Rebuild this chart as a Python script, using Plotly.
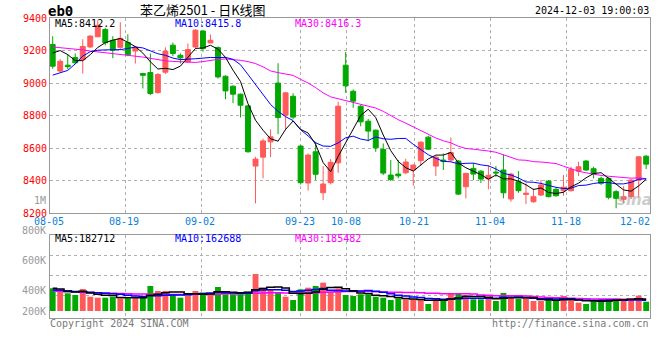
import plotly.graph_objects as go
import pandas as pd

# ---------------- data ----------------
dates = [
    "2024-08-05", "2024-08-06", "2024-08-07", "2024-08-08", "2024-08-09",
    "2024-08-12", "2024-08-13", "2024-08-14", "2024-08-15", "2024-08-16",
    "2024-08-19", "2024-08-20", "2024-08-21", "2024-08-22", "2024-08-23",
    "2024-08-26", "2024-08-27", "2024-08-28", "2024-08-29", "2024-08-30",
    "2024-09-02", "2024-09-03", "2024-09-04", "2024-09-05", "2024-09-06",
    "2024-09-09", "2024-09-10", "2024-09-11", "2024-09-12", "2024-09-13",
    "2024-09-18", "2024-09-19", "2024-09-20", "2024-09-23", "2024-09-24",
    "2024-09-25", "2024-09-26", "2024-09-27", "2024-09-30", "2024-10-08",
    "2024-10-09", "2024-10-10", "2024-10-11", "2024-10-14", "2024-10-15",
    "2024-10-16", "2024-10-17", "2024-10-18", "2024-10-21", "2024-10-22",
    "2024-10-23", "2024-10-24", "2024-10-25", "2024-10-28", "2024-10-29",
    "2024-10-30", "2024-10-31", "2024-11-01", "2024-11-04", "2024-11-05",
    "2024-11-06", "2024-11-07", "2024-11-08", "2024-11-11", "2024-11-12",
    "2024-11-13", "2024-11-14", "2024-11-15", "2024-11-18", "2024-11-19",
    "2024-11-20", "2024-11-21", "2024-11-22", "2024-11-25", "2024-11-26",
    "2024-11-27", "2024-11-28", "2024-11-29", "2024-12-02", "2024-12-03",
]

opens = [
    9237, 9074, 9110, 9157, 9144, 9222, 9285, 9329, 9263, 9220,
    9249, 9197, 9059, 9065, 8942, 9067, 9233, 9171, 9130, 9222,
    9320, 9247, 9218, 9042, 8981, 8932, 8860, 8490, 8545, 8639,
    9000, 8803, 8919, 8613, 8386, 8578, 8326, 8388, 8510, 9110,
    8950, 8858, 8766, 8711, 8593, 8435, 8441, 8449, 8467, 8523,
    8668, 8490, 8527, 8527, 8521, 8363, 8476, 8459, 8412, 8453,
    8466, 8288, 8394, 8316, 8271, 8312, 8398, 8347, 8339, 8339,
    8459, 8521, 8474, 8415, 8415, 8333, 8286, 8302, 8404, 8551,
]
highs = [
    9288, 9147, 9177, 9183, 9269, 9294, 9386, 9340, 9288, 9374,
    9300, 9228, 9063, 9181, 9061, 9220, 9249, 9183, 9243, 9332,
    9325, 9298, 9226, 9048, 8987, 8936, 8864, 8547, 8659, 8716,
    9122, 8946, 8938, 8619, 8567, 8640, 8490, 8533, 8885, 9191,
    8961, 8866, 8780, 8715, 8629, 8527, 8527, 8535, 8502, 8643,
    8677, 8554, 8568, 8666, 8527, 8449, 8510, 8465, 8496, 8490,
    8562, 8449, 8459, 8384, 8353, 8404, 8404, 8359, 8435, 8486,
    8517, 8527, 8486, 8425, 8421, 8343, 8367, 8409, 8551, 8557,
]
lows = [
    9088, 9067, 9085, 9116, 9059, 9217, 9282, 9232, 9153, 9202,
    9165, 9120, 8967, 8926, 8935, 9055, 9165, 9120, 9128, 9214,
    9193, 9245, 9028, 8901, 8877, 8789, 8573, 8261, 8415, 8545,
    8686, 8711, 8778, 8377, 8340, 8404, 8282, 8377, 8449, 8940,
    8848, 8734, 8642, 8578, 8435, 8398, 8415, 8440, 8369, 8491,
    8588, 8429, 8466, 8515, 8312, 8292, 8404, 8387, 8347, 8424,
    8292, 8271, 8326, 8257, 8265, 8306, 8298, 8302, 8308, 8333,
    8429, 8461, 8415, 8374, 8286, 8231, 8263, 8288, 8298, 8472,
]
closes = [
    9104, 9134, 9101, 9125, 9225, 9289, 9355, 9248, 9202, 9275,
    9174, 9222, 9048, 8936, 9053, 9196, 9182, 9155, 9206, 9325,
    9212, 9263, 9038, 8952, 8932, 8864, 8578, 8533, 8645, 8670,
    8789, 8940, 8791, 8388, 8558, 8440, 8380, 8513, 8858, 8983,
    8889, 8762, 8705, 8602, 8447, 8408, 8430, 8515, 8496, 8637,
    8594, 8545, 8518, 8573, 8318, 8445, 8441, 8410, 8433, 8448,
    8326, 8441, 8339, 8323, 8302, 8374, 8302, 8308, 8360, 8470,
    8486, 8466, 8441, 8384, 8298, 8292, 8302, 8404, 8547, 8502,
]
volumes = [
    350000, 313000, 273000, 246000, 339000, 220000, 205000, 205000, 220000, 196000,
    196000, 196000, 211000, 385000, 308000, 308000, 257000, 205000, 242000, 308000,
    282000, 273000, 370000, 257000, 257000, 257000, 297000, 570000, 359000, 339000,
    282000, 220000, 169000, 334000, 359000, 385000, 436000, 297000, 350000, 246000,
    231000, 257000, 257000, 220000, 205000, 169000, 196000, 180000, 180000, 169000,
    108000, 196000, 180000, 262000, 262000, 236000, 180000, 180000, 196000, 154000,
    277000, 205000, 185000, 196000, 154000, 154000, 169000, 154000, 231000, 169000,
    128000, 108000, 159000, 185000, 185000, 185000, 159000, 185000, 236000, 143000,
]

# moving-average values at the start of the window (they depend on earlier sessions
# that are not on the chart, so they are read from the picture)
ma5_head = [9185, 9200, 9175, 9138]
ma10_head = [9049, 9063, 9078, 9118, 9166, 9193, 9202, 9204, 9206]
ma30_head = [9222, 9218, 9213, 9209, 9204, 9197, 9192, 9186, 9180, 9176,
             9172, 9166, 9160, 9152, 9143, 9137, 9133, 9130, 9128, 9127,
             9132, 9140, 9146, 9148, 9146, 9140, 9132, 9120, 9100]
vma5_head = [350000, 340000, 300000, 292000]
vma10_head = [323000, 318000, 310000, 302000, 296000, 289000, 281000, 273000, 265000]
vma30_head = [310000, 305000, 300000, 295000, 290000, 285000, 280000, 276000, 272000, 268000,
              265000, 262000, 260000, 258000, 257000, 256000, 256000, 256000, 257000, 258000,
              259000, 260000, 262000, 264000, 266000, 269000, 272000, 275000, 278000]

price_ticks = [8200, 8400, 8600, 8800, 9000, 9200, 9400]
date_labels = ["08-05", "08-19", "09-02", "09-23", "10-08", "10-21", "11-04", "11-18", "12-02"]
vol_labels = ["1M", "800K", "600K", "400K", "200K"]

# ---------------- styling / layout constants ----------------
RED = "#ff5a5a"
GREEN = "#00a800"
BLUE = "#0000ff"
MAG = "#ff00ff"
GRID = "#b0b0b0"
BORDER = "#999999"
MONO = "DejaVu Sans Mono"
CJK = "Noto Sans CJK SC"

W, H = 660, 360
ML, MR, MT, MB = 50, 10, 18, 42
PW, PH = W - ML - MR, H - MT - MB        # 600 x 300


def px(x):  # page pixel -> paper
    return (x - ML) / PW


def py(y):  # page pixel -> paper
    return (H - MB - y) / PH


def moving(values, n, head):
    s = pd.Series(values, dtype=float).rolling(n).mean().tolist()
    return list(head) + s[len(head):]


xi = list(range(len(dates)))
ma5 = moving(closes, 5, ma5_head)
ma10 = moving(closes, 10, ma10_head)
ma30 = moving(closes, 30, ma30_head)
vma5 = moving(volumes, 5, vma5_head)
vma10 = moving(volumes, 10, vma10_head)
vma30 = moving(volumes, 30, vma30_head)
vol_colors = [RED if c >= o else GREEN for o, c in zip(opens, closes)]

fig = go.Figure()
fig.add_trace(go.Candlestick(
    x=xi, open=opens, high=highs, low=lows, close=closes,
    customdata=dates, xaxis="x", yaxis="y",
    increasing=dict(line=dict(color=RED, width=1), fillcolor=RED),
    decreasing=dict(line=dict(color=GREEN, width=1), fillcolor=GREEN),
    whiskerwidth=0, name="K",
))
for vals, col in [(ma30, MAG), (ma10, BLUE), (ma5, "#000000")]:
    fig.add_trace(go.Scatter(x=xi, y=vals, mode="lines", xaxis="x", yaxis="y",
                             line=dict(color=col, width=1), hoverinfo="skip"))

fig.add_trace(go.Bar(x=xi, y=volumes, marker=dict(color=vol_colors, line=dict(width=0)),
                     xaxis="x2", yaxis="y2", customdata=dates))
for vals, col in [(vma30, MAG), (vma10, BLUE), (vma5, "#000000")]:
    fig.add_trace(go.Scatter(x=xi, y=vals, mode="lines", xaxis="x2", yaxis="y2",
                             line=dict(color=col, width=1.5, shape="hvh"), hoverinfo="skip"))

grid_idx = [9.67, 19.84, 33.02, 39.05, 48.15, 58.33, 68.44]
xr = [-0.36, 79.51]
xcommon = dict(range=xr, tickvals=grid_idx, showticklabels=False, ticks="",
               showgrid=True, gridcolor=GRID, griddash="dot", gridwidth=1,
               showline=True, mirror=True, linecolor=BORDER, linewidth=1,
               zeroline=False, fixedrange=True)

# volume axis: zero sits at page pixel 311, ~15.4K per pixel
vol_per_px = 15400
vol_range = [-(318 - 311) * vol_per_px, (311 - 235) * vol_per_px]
vol_grid = [(311 - yy) * vol_per_px for yy in (295.3, 275.3, 255.7)]

fig.update_layout(
    width=W, height=H,
    margin=dict(l=ML, r=MR, t=MT, b=MB, pad=0),
    paper_bgcolor="white", plot_bgcolor="white",
    showlegend=False,
    bargap=0.22,
    boxgap=0.2, boxgroupgap=0.18,
    xaxis=dict(domain=[0, 1], anchor="y", rangeslider=dict(visible=False), **xcommon),
    xaxis2=dict(domain=[0, 1], anchor="y2", matches="x", **xcommon),
    yaxis=dict(domain=[py(213.3), 1], range=[8200, 9400], tickvals=price_ticks,
               ticktext=[str(t) for t in price_ticks], ticks="",
               tickfont=dict(family=MONO, size=10, color="#ff0000"),
               showgrid=True, gridcolor=GRID, griddash="dot",
               showline=True, mirror=True, linecolor=BORDER, linewidth=1,
               zeroline=False, fixedrange=True),
    yaxis2=dict(domain=[0, py(235)], range=vol_range, tickvals=vol_grid,
                showticklabels=False, ticks="",
                showgrid=True, gridcolor=GRID, griddash="dot",
                showline=True, mirror=True, linecolor=BORDER, linewidth=1,
                zeroline=False, fixedrange=True),
    font=dict(family=MONO, size=10, color="#000"),
    hovermode="x",
)

anns = []


def ann(text, x, y, xanchor="left", color="#000", size=10, family=MONO, **kw):
    anns.append(dict(text=text, x=px(x), y=py(y), xref="paper", yref="paper",
                     xanchor=xanchor, yanchor="middle", showarrow=False,
                     font=dict(family=family, size=size, color=color), borderpad=0, **kw))


ann("<b>eb0</b>", 47, 11, size=14)
ann("苯乙烯2501 - 日K线图", 139, 9.5, size=13, family=CJK)
ann("2024-12-03 19:00:03", 650, 11, xanchor="right")
ann("MA5:8412.2", 54, 23.5)
ann("MA10:8415.8", 174, 23.5, color=BLUE)
ann("MA30:8416.3", 294, 23.5, color=MAG)
ann("MA5:182712", 54, 238.5)
ann("MA10:162688", 174, 238.5, color=BLUE)
ann("MA30:185482", 294, 238.5, color=MAG)
for t, yy in zip(vol_labels, [200.7, 230.7, 260.7, 290.7, 311]):
    ann(t, 47, yy, xanchor="right", color="#999999")
for t, xx in zip(date_labels, [49, 124, 200.3, 300, 345.7, 414.3, 490, 566, 635]):
    ann(t, xx, 221.7, xanchor="center", color="#0a7fd8")
ann("Copyright 2024 SINA.COM", 49, 323.5, color="#7a7a7a")
ann("http://finance.sina.com.cn", 650, 323.5, xanchor="right", color="#7a7a7a")
ann("<i><b>sina</b></i>", 634, 200, xanchor="center", color="rgba(160,160,160,0.55)",
    size=15, family="DejaVu Sans")
fig.update_layout(annotations=anns)

# remove the page body's default 8px margin so the 660x360 figure fills the window
fig.write_html("out.html", config={"displayModeBar": False},
               post_script="document.body.style.margin='0';")
